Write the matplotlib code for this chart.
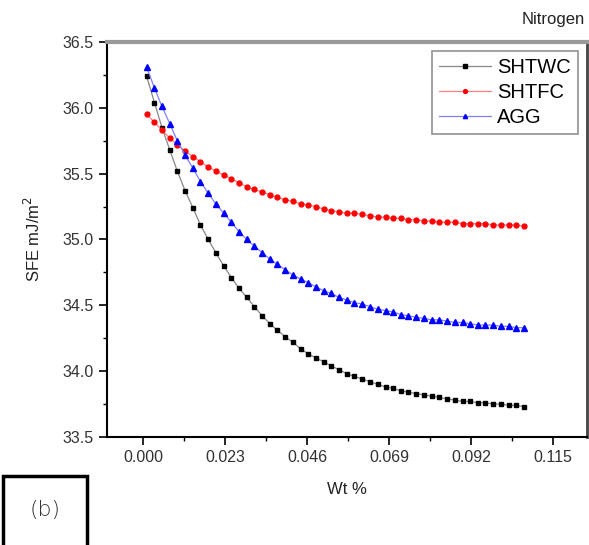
import matplotlib
matplotlib.use("Agg")
import matplotlib.pyplot as plt
from matplotlib.patches import Rectangle
from matplotlib.ticker import MultipleLocator, FormatStrFormatter

plt.rcParams['font.family'] = ['Liberation Sans', 'DejaVu Sans']

# Wt % (nitrogen)
wt = [0.0010, 0.0032, 0.0053, 0.0075, 0.0096, 0.0118, 0.0140, 0.0161, 0.0183, 0.0204,
      0.0226, 0.0248, 0.0269, 0.0291, 0.0312, 0.0334, 0.0356, 0.0377, 0.0399, 0.0420,
      0.0442, 0.0464, 0.0485, 0.0507, 0.0528, 0.0550, 0.0572, 0.0593, 0.0615, 0.0636,
      0.0658, 0.0680, 0.0701, 0.0723, 0.0744, 0.0766, 0.0788, 0.0809, 0.0831, 0.0852,
      0.0874, 0.0896, 0.0917, 0.0939, 0.0960, 0.0982, 0.1004, 0.1025, 0.1047, 0.1068]

shtwc = [36.24, 36.04, 35.85, 35.68, 35.52, 35.37, 35.24, 35.11, 35.00, 34.90,
         34.80, 34.71, 34.63, 34.56, 34.49, 34.42, 34.36, 34.31, 34.26, 34.22,
         34.17, 34.13, 34.10, 34.07, 34.04, 34.01, 33.98, 33.96, 33.94, 33.92,
         33.90, 33.88, 33.87, 33.85, 33.84, 33.83, 33.82, 33.81, 33.80, 33.79,
         33.78, 33.77, 33.77, 33.76, 33.76, 33.75, 33.75, 33.74, 33.74, 33.73]

shtfc = [35.95, 35.89, 35.83, 35.77, 35.72, 35.67, 35.63, 35.59, 35.55, 35.52,
         35.49, 35.46, 35.43, 35.40, 35.38, 35.36, 35.34, 35.32, 35.30, 35.29,
         35.27, 35.26, 35.25, 35.23, 35.22, 35.21, 35.20, 35.20, 35.19, 35.18,
         35.17, 35.17, 35.16, 35.16, 35.15, 35.15, 35.14, 35.14, 35.13, 35.13,
         35.13, 35.12, 35.12, 35.12, 35.12, 35.11, 35.11, 35.11, 35.11, 35.10]

agg = [36.31, 36.15, 36.01, 35.88, 35.75, 35.64, 35.54, 35.44, 35.35, 35.27,
       35.20, 35.13, 35.06, 35.00, 34.95, 34.90, 34.85, 34.81, 34.77, 34.73,
       34.70, 34.67, 34.64, 34.61, 34.59, 34.56, 34.54, 34.52, 34.51, 34.49,
       34.47, 34.46, 34.45, 34.43, 34.42, 34.41, 34.40, 34.39, 34.39, 34.38,
       34.37, 34.37, 34.36, 34.35, 34.35, 34.35, 34.34, 34.34, 34.33, 34.33]

xticks = [0.000, 0.023, 0.046, 0.069, 0.092, 0.115]

fig = plt.figure(figsize=(5.89, 5.45), dpi=100)
ax = fig.add_axes([0.1817, 0.1982, 0.8149, 0.7248])

ax.plot(wt, shtwc, color='#888888', lw=0.9, marker='s', ms=3, mfc='black', mec='black', label='SHTWC')
ax.plot(wt, shtfc, color='#ff8080', lw=0.9, marker='o', ms=3.5, mfc='red', mec='red', label='SHTFC')
ax.plot(wt, agg, color='#8080ff', lw=0.9, marker='^', ms=3.8, mfc='blue', mec='blue', label='AGG')

ax.set_xlim(-0.0101, 0.1245)
ax.set_ylim(33.5, 36.5)
ax.set_xticks(xticks)
ax.xaxis.set_major_formatter(FormatStrFormatter('%.3f'))
ax.xaxis.set_minor_locator(MultipleLocator(0.0115))
ax.yaxis.set_major_locator(MultipleLocator(0.5))
ax.yaxis.set_minor_locator(MultipleLocator(0.25))
ax.yaxis.set_major_formatter(FormatStrFormatter('%.1f'))
ax.tick_params(which='major', direction='out', length=6, width=1.2, labelsize=11.5,
               labelcolor='#333333', top=False, right=False)
ax.tick_params(which='minor', direction='out', length=3, width=1, top=False, right=False)

ax.spines['left'].set_linewidth(1.5)
ax.spines['bottom'].set_linewidth(1.5)
ax.spines['top'].set_color('#999999')
ax.spines['top'].set_linewidth(3)
ax.spines['right'].set_color('#444444')
ax.spines['right'].set_linewidth(2)

ax.set_xlabel('Wt %', fontsize=12, color='#222222', labelpad=12)
ax.set_ylabel('SFE mJ/m$^2$', fontsize=12, color='#222222', labelpad=14)

leg = ax.legend(loc='upper right', fontsize=14.5, frameon=True, fancybox=False,
                edgecolor='#777777', handlelength=2.6, borderaxespad=0.45,
                borderpad=0.35, labelspacing=0.3, handletextpad=0.3, markerscale=0.8)
leg.get_frame().set_linewidth(1.2)

fig.text(0.993, 0.965, 'Nitrogen', ha='right', va='center', fontsize=12, color='#222222')

fig.patches.append(Rectangle((0.005, -0.01), 0.142, 0.137, transform=fig.transFigure,
                             fill=False, edgecolor='black', linewidth=2.5))
fig.text(0.076, 0.065, '(b)', ha='center', va='center', fontsize=16,
         family='DejaVu Sans', fontweight='light', color='#333333')

fig.savefig('out.png', dpi=100)
